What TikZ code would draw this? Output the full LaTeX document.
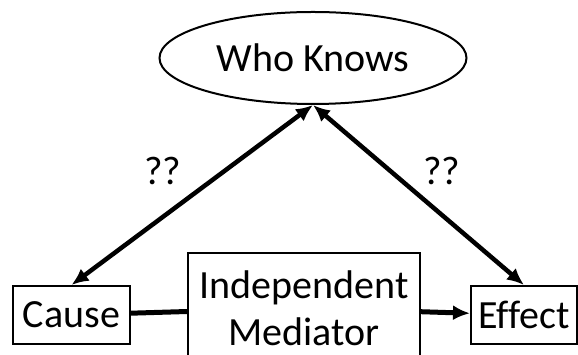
\documentclass[tikz,border=0pt]{standalone}
\usepackage{fontspec}
\setmainfont[Ligatures=NoCommon]{Carlito}
\usepackage{tikz}
\usetikzlibrary{arrows.meta}
\usetikzlibrary{shapes.geometric}
\usetikzlibrary{positioning}

\begin{document}
\begin{tikzpicture}[x=1pt,y=1pt,>={Latex[length=17pt,width=15pt]},every node/.style={font=\fontsize{40}{47}\selectfont,inner sep=0pt},
  box/.style={draw,line width=2pt,rectangle,align=center}]
  \useasboundingbox (0,0) rectangle (578,355);
  \node (who) at (313,297)[draw,line width=2pt,ellipse,minimum width=307pt,minimum height=92pt]{Who Knows};

  \node (cause) at (71.5,40)[box,minimum width=117pt,minimum height=58pt]{Cause};
  \node (effect) at (524,40)[box,minimum width=106pt,minimum height=58pt]{Effect};
  \node (med) at (304,47)[box,minimum width=232pt,minimum height=110pt]{Independent\\Mediator};

  \node (q1) at (163,184){??};
  \node (q2) at (442,184){??};

  \draw[line width=5pt](cause)--(med);
  \draw[line width=5pt,->](med)--(effect);
  \draw[line width=4.5pt,<->](cause.north)--(who.south);
  \draw[line width=4.5pt,<->](effect.north)--(who.south);
\end{tikzpicture}
\end{document}
